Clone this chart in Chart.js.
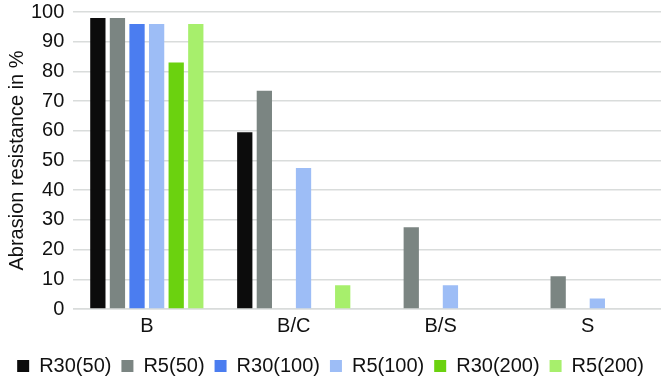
<!DOCTYPE html>
<html>
<head>
<meta charset="utf-8">
<script src="https://cdn.jsdelivr.net/npm/chart.js@4"></script>
<style>
    html, body { margin: 0; padding: 0; background: #fff; overflow: hidden; }
    #wrap { width: 661px; height: 395px; margin-top: -9px; }
</style>
</head>
<body>
<div id="wrap"><canvas id="abrasionChart"></canvas></div>
<script>
// Categories and series (abrasion resistance in %)
const categories = ['B', 'B/C', 'B/S', 'S'];
const seriesNames = ['R30(50)', 'R5(50)', 'R30(100)', 'R5(100)', 'R30(200)', 'R5(200)'];
const r30_50 = [98, 59.5, 0, 0];
const r5_50 = [98, 73.5, 27.5, 11];
const r30_100 = [96, 0, 0, 0];
const r5_100 = [96, 47.5, 8, 3.5];
const r30_200 = [83, 0, 0, 0];
const r5_200 = [96, 8, 0, 0];
const yTicks = [0, 10, 20, 30, 40, 50, 60, 70, 80, 90, 100];

const seriesColors = ['#0c0c0c', '#7b8582', '#4b7df0', '#9dbdf6', '#6bd20f', '#a7ef6c'];
const seriesValues = [r30_50, r5_50, r30_100, r5_100, r30_200, r5_200];

document.addEventListener('DOMContentLoaded', function() {
    const ctx = document.getElementById('abrasionChart').getContext('2d');
    Chart.defaults.font.family = '"Liberation Sans", Arial, sans-serif';
    Chart.defaults.color = '#111';

    new Chart(ctx, {
        type: 'bar',
        data: {
            labels: categories,
            datasets: seriesNames.map((name, i) => ({
                label: name,
                data: seriesValues[i],
                backgroundColor: seriesColors[i],
                borderWidth: 0,
                barPercentage: 0.78,
                categoryPercentage: 0.8
            }))
        },
        options: {
            responsive: true,
            maintainAspectRatio: false,
            animation: false,
            layout: { padding: { left: 0, right: 0, top: 0, bottom: 0 } },
            plugins: {
                legend: {
                    position: 'bottom',
                    labels: {
                        boxWidth: 12,
                        boxHeight: 12,
                        padding: 10,
                        font: { size: 20 }
                    }
                },
                tooltip: { enabled: false }
            },
            scales: {
                x: {
                    grid: { display: false, drawTicks: false },
                    border: { display: true, color: '#d9dcdb', width: 1.5 },
                    ticks: { font: { size: 20 }, padding: 5 },
                    afterFit: axis => { axis.height += 3; }
                },
                y: {
                    min: 0,
                    max: 100,
                    afterBuildTicks: axis => { axis.ticks = yTicks.map(v => ({ value: v })); },
                    afterFit: axis => { axis.width -= 7; },
                    grid: { color: '#d9dcdb', lineWidth: 1.5, drawTicks: false },
                    border: { display: false },
                    ticks: { font: { size: 20 }, padding: 9, autoSkip: false },
                    title: {
                        display: true,
                        text: 'Abrasion resistance in %',
                        font: { size: 20 },
                        padding: { top: 5, bottom: 0 }
                    }
                }
            }
        }
    });
});
</script>
</body>
</html>
